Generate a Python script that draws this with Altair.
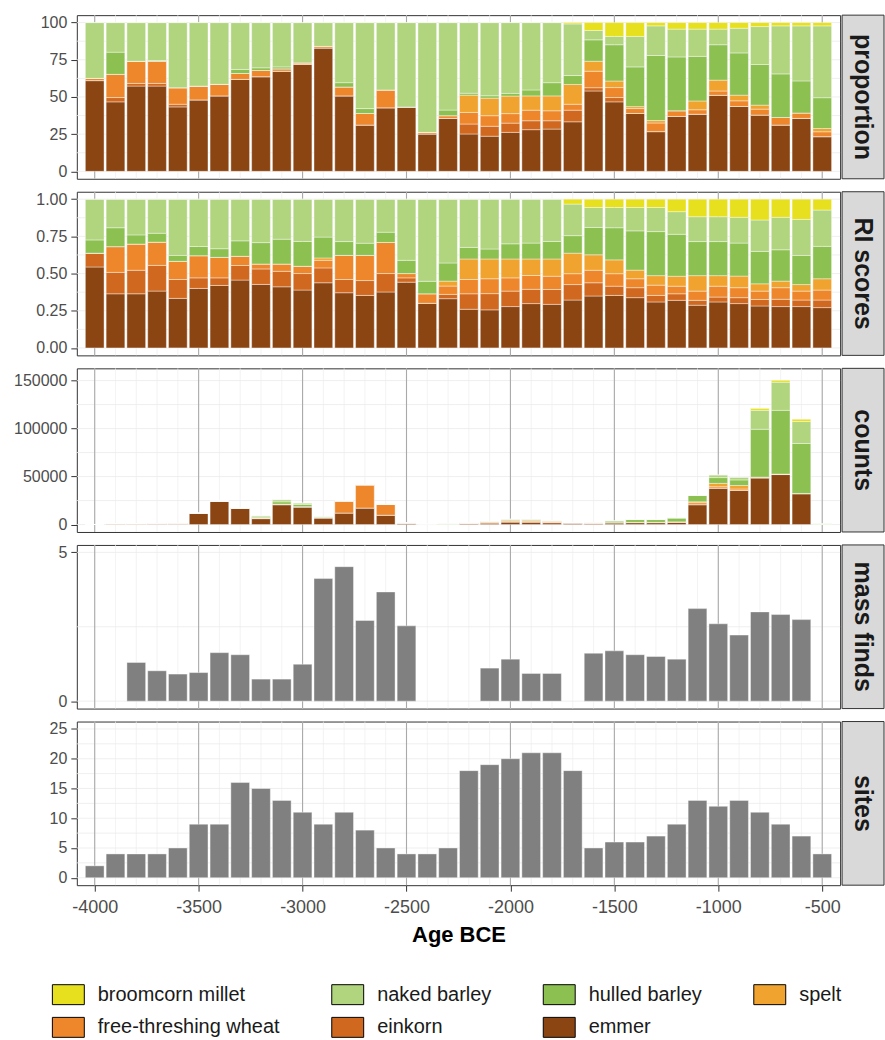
import altair as alt
import pandas as pd

FONT = "Liberation Sans"

# Time bins (century mid-points, BCE as negative years)
years = [-4000, -3900, -3800, -3700, -3600, -3500, -3400, -3300, -3200, -3100,
         -3000, -2900, -2800, -2700, -2600, -2500, -2400, -2300, -2200, -2100,
         -2000, -1900, -1800, -1700, -1600, -1500, -1400, -1300, -1200, -1100,
         -1000, -900, -800, -700, -600, -500]

# Crops, in legend order, with their fills
crops = ["broomcorn millet", "naked barley", "hulled barley", "spelt",
         "free-threshing wheat", "einkorn", "emmer"]
crop_colors = ["#E7E01F", "#B1D47E", "#8CC152", "#F1A330", "#EE872B", "#D0691F", "#8B4513"]
# stacking position from the baseline upwards
stack_rank = {"emmer": 0, "einkorn": 1, "free-threshing wheat": 2, "spelt": 3,
              "hulled barley": 4, "naked barley": 5, "broomcorn millet": 6}

# ---- proportion (%) ----
prop_emmer = [61, 46.7, 57.3, 57.3, 43.3, 48, 50.7, 61.8, 63.6, 67.3, 71.8, 82.9, 50.7, 31.1,
              42.7, 43.3, 25.1, 35.6, 25.1, 23.6, 26.2, 28, 28.4, 33.3, 54, 46.7, 38.9, 26.7,
              36.9, 38.4, 51.1, 43.6, 37.8, 31.1, 35.6, 23.3]
prop_einkorn = [0, 2.9, 1.8, 1.8, 1.8, 0, 0, 0, 0, 0, 0, 0, 0, 0, 0, 0, 0, 0, 6.7, 6.7, 6.2, 6,
                5.6, 7.8, 2.2, 2.9, 0, 0, 0, 0, 0, 0, 0, 0, 0, 0]
prop_ftw = [1.5, 15.6, 14.9, 14.9, 11.1, 9.3, 7.8, 4, 4.2, 1.6, 1.1, 1.1, 6, 7.8, 12, 0, 1.1,
            1.8, 7.8, 7.1, 6.4, 7.1, 6.7, 4, 11.1, 6.7, 3.3, 5.8, 3.8, 3, 2.9, 3.8, 4, 5.1,
            3.6, 3.3]
prop_spelt = [0, 0, 0, 0, 0, 0, 0, 0, 0, 0, 0, 0, 0, 0, 0, 0, 0, 0, 11.6, 11.8, 11.8, 9.6, 10,
              13.3, 6.7, 4.4, 1.3, 1.6, 0, 5.9, 7.3, 3.8, 2.7, 0, 0, 2.2]
prop_hulled = [0, 14.9, 0, 0.5, 0, 0, 0, 2.7, 1.8, 1.3, 0, 0, 2.9, 3.3, 0, 0, 0, 3.8, 1.3, 1.6,
               1.8, 4, 8.9, 6, 14.4, 24.4, 26.7, 43.8, 36.2, 30, 23.8, 28.4, 27.3, 29.3, 21.6,
               20.7]
prop_naked = [37.5, 19.9, 26.0, 25.5, 43.8, 42.7, 41.5, 31.5, 30.4, 29.8, 27.1, 16.0, 40.4,
              57.8, 45.3, 56.7, 73.8, 58.8, 47.5, 49.2, 47.6, 45.3, 40.4, 34.7, 6.3, 5.6,
              20.5, 19.9, 18.7, 18.3, 10.5, 16.6, 25.5, 32.3, 37.0, 48.3]
prop_millet = [0, 0, 0, 0, 0, 0, 0, 0, 0, 0, 0, 0, 0, 0, 0, 0, 0, 0, 0, 0, 0, 0, 0, 0.9, 5.3,
               9.3, 9.3, 2.2, 4.4, 4.4, 4.4, 3.8, 2.7, 2.2, 2.2, 2.2]

# ---- RI scores ----
ri_emmer = [0.544, 0.364, 0.364, 0.382, 0.333, 0.4, 0.42, 0.456, 0.427, 0.411, 0.389, 0.438,
            0.371, 0.353, 0.376, 0.442, 0.3, 0.331, 0.26, 0.256, 0.278, 0.298, 0.293, 0.322,
            0.349, 0.353, 0.338, 0.309, 0.32, 0.287, 0.309, 0.298, 0.282, 0.278, 0.278, 0.271]
ri_einkorn = [0.093, 0.144, 0.158, 0.173, 0.127, 0.071, 0.051, 0.098, 0.104, 0.104, 0.111, 0.1,
              0.089, 0.1, 0.124, 0.029, 0, 0.029, 0.104, 0.109, 0.104, 0.096, 0.1, 0.104, 0.089,
              0.062, 0.067, 0.044, 0.044, 0.033, 0.033, 0.04, 0.044, 0.049, 0.044, 0.051]
ri_ftw = [0, 0.173, 0.176, 0.156, 0.122, 0.149, 0.138, 0.062, 0.033, 0.049, 0.049, 0.051, 0.162,
          0.169, 0.209, 0.029, 0.064, 0.056, 0.096, 0.1, 0.089, 0.093, 0.089, 0.073, 0.084,
          0.084, 0.06, 0.069, 0.051, 0.062, 0.073, 0.067, 0.056, 0.078, 0.06, 0.067]
ri_spelt = [0, 0, 0, 0, 0, 0, 0, 0, 0, 0, 0, 0.016, 0, 0, 0, 0, 0, 0.033, 0.138, 0.133, 0.127,
            0.111, 0.116, 0.138, 0.104, 0.093, 0.058, 0.064, 0.067, 0.104, 0.071, 0.078, 0.049,
            0.044, 0.044, 0.076]
ri_hulled = [0.089, 0.127, 0.062, 0.06, 0.04, 0.062, 0.058, 0.104, 0.144, 0.167, 0.167, 0.14,
             0.093, 0.082, 0.069, 0.089, 0.084, 0.122, 0.078, 0.067, 0.102, 0.107, 0.118, 0.118,
             0.184, 0.216, 0.264, 0.296, 0.282, 0.229, 0.229, 0.222, 0.218, 0.211, 0.196, 0.218]
ri_naked = [0.274, 0.192, 0.24, 0.229, 0.378, 0.318, 0.333, 0.28, 0.292, 0.269, 0.284, 0.255,
            0.285, 0.296, 0.222, 0.411, 0.552, 0.429, 0.324, 0.335, 0.3, 0.295, 0.284, 0.212,
            0.134, 0.136, 0.157, 0.162, 0.152, 0.167, 0.167, 0.173, 0.211, 0.218, 0.242, 0.244]
ri_millet = [0, 0, 0, 0, 0, 0, 0, 0, 0, 0, 0, 0, 0, 0, 0, 0, 0, 0, 0, 0, 0, 0, 0, 0.033, 0.056,
             0.056, 0.056, 0.056, 0.084, 0.118, 0.118, 0.122, 0.14, 0.122, 0.136, 0.073]

# ---- counts (grains) ----
cnt_emmer = [0, 500, 500, 600, 600, 11500, 24000, 16800, 6200, 20700, 18300, 6900, 12000, 17200,
             9700, 1400, 300, 0, 1000, 1500, 2500, 2400, 1800, 1400, 1300, 1800, 2000, 2000,
             2500, 20700, 37900, 35500, 48600, 52100, 32100, 200]
cnt_einkorn = [0, 0, 0, 0, 0, 0, 0, 0, 0, 0, 0, 0, 0, 0, 0, 0, 0, 0, 200, 300, 400, 400, 300,
               200, 0, 0, 0, 0, 0, 0, 0, 0, 0, 0, 0, 0]
cnt_ftw = [0, 600, 700, 800, 900, 500, 500, 400, 500, 500, 300, 300, 12500, 24200, 11300, 300,
           0, 0, 300, 500, 700, 700, 600, 200, 300, 200, 300, 300, 300, 2000, 1500, 1500, 800,
           500, 300, 0]
cnt_spelt = [0, 0, 0, 0, 0, 0, 0, 0, 0, 0, 0, 0, 0, 0, 0, 0, 0, 0, 200, 600, 800, 900, 900, 200,
             0, 0, 0, 0, 0, 1000, 3500, 3700, 0, 0, 0, 0]
cnt_hulled = [0, 0, 0, 0, 0, 0, 0, 0, 1000, 2500, 2300, 0, 0, 0, 0, 0, 0, 200, 0, 500, 1100,
              1100, 200, 0, 400, 1800, 2900, 2900, 4100, 6600, 6000, 5800, 49900, 66400, 52100, 0]
cnt_naked = [0, 0, 0, 0, 0, 0, 0, 0, 1300, 2200, 1500, 800, 0, 0, 0, 0, 200, 500, 0, 0, 0, 0, 0,
             0, 0, 0, 0, 0, 0, 0, 2800, 2800, 19700, 29300, 22800, 600]
cnt_millet = [0, 0, 0, 0, 0, 0, 0, 0, 0, 0, 0, 0, 0, 0, 0, 0, 0, 0, 0, 0, 0, 0, 0, 0, 0, 0, 0, 0,
              0, 0, 0, 0, 2000, 2000, 2400, 0]

# ---- mass finds and sites ----
mass_finds = [None, None, 1.3, 1.02, 0.91, 0.96, 1.63, 1.56, 0.74, 0.74, 1.24, 4.12, 4.52, 2.71,
              3.67, 2.53, None, None, None, 1.11, 1.41, 0.93, 0.93, None, 1.61, 1.69, 1.56, 1.5,
              1.41, 3.11, 2.6, 2.22, 3.0, 2.91, 2.74, None]
sites = [2, 4, 4, 4, 5, 9, 9, 16, 15, 13, 11, 9, 11, 8, 5, 4, 4, 5, 18, 19, 20, 21, 21, 18, 5, 6,
         6, 7, 9, 13, 12, 13, 11, 9, 7, 4]

x_ticks = [-4000, -3500, -3000, -2500, -2000, -1500, -1000, -500]
x_minor = [-4000, -3900, -3800, -3700, -3600, -3500, -3400, -3300, -3200, -3100, -3000, -2900,
           -2800, -2700, -2600, -2500, -2400, -2300, -2200, -2100, -2000, -1900, -1800, -1700,
           -1600, -1500, -1400, -1300, -1200, -1100, -1000, -900, -800, -700, -600, -500]
X_DOMAIN = [-4086, -414]

W, H = 765, 164
STRIP_W = 38


def long_table(series):
    rows = []
    for crop, vals in series.items():
        for yr, v in zip(years, vals):
            rows.append({"year": yr, "crop": crop, "value": v, "rank": stack_rank[crop]})
    return pd.DataFrame(rows)


def y_axis(values, fmt):
    return alt.Axis(values=values, format=fmt, grid=False, domain=False, title=None,
                    tickColor="#333333", tickSize=6, labelPadding=4, labelFontSize=16,
                    labelColor="#4D4D4D", labelFont=FONT)


def x_axis(bottom):
    if not bottom:
        return None
    return alt.Axis(values=x_ticks, labelExpr="datum.value + ''", grid=False, domain=False,
                    title="Age BCE", tickColor="#333333", tickSize=6, labelPadding=7,
                    labelFontSize=18, labelColor="#4D4D4D", labelFont=FONT, titleFont=FONT,
                    titleFontSize=22, titleFontWeight="bold", titleColor="#000000",
                    titlePadding=8)


def grid_layers(y_grid, y_scale, yax, xax):
    xs = alt.Scale(domain=X_DOMAIN)
    vminor = alt.Chart(pd.DataFrame({"gx": x_minor})).mark_rule(
        color="#EDEDED", strokeWidth=0.7
    ).encode(x=alt.X("gx:Q", scale=xs, axis=xax))
    hgrid = alt.Chart(pd.DataFrame({"gy": y_grid})).mark_rule(
        color="#EBEBEB", strokeWidth=0.8
    ).encode(y=alt.Y("gy:Q", scale=y_scale, axis=yax))
    vmajor = alt.Chart(pd.DataFrame({"gx": x_ticks})).mark_rule(
        color="#A9A9A9", strokeWidth=1.1
    ).encode(x=alt.X("gx:Q", scale=xs, axis=xax))
    return [vminor, hgrid, vmajor]


def strip_layers(label):
    one = pd.DataFrame({"k": [0]})
    box = alt.Chart(one).mark_rect(
        fill="#D9D9D9", stroke="#333333", strokeWidth=1
    ).encode(x=alt.value(W + 2), x2=alt.value(W + 2 + STRIP_W + 4), y=alt.value(0),
             y2=alt.value(H))
    txt = alt.Chart(one).mark_text(
        angle=90, font=FONT, fontSize=25, fontWeight="bold", color="#1A1A1A",
        align="center", baseline="middle"
    ).encode(x=alt.value(W + 2 + 21), y=alt.value(H / 2), text=alt.value(label))
    return [box, txt]


def stacked_panel(series, y_domain, y_ticks, y_grid, fmt, label):
    df = long_table(series)
    ys = alt.Scale(domain=y_domain)
    yax = y_axis(y_ticks, fmt)
    bars = alt.Chart(df).transform_stack(
        stack="value", groupby=["year"], as_=["v0", "v1"],
        sort=[alt.SortField("rank", order="ascending")]
    ).transform_calculate(
        lo="datum.year - 45", hi="datum.year + 45"
    ).mark_bar(stroke="#FFFFFF", strokeWidth=0.5, strokeOpacity=0.8).encode(
        x=alt.X("lo:Q", scale=alt.Scale(domain=X_DOMAIN), axis=None),
        x2="hi:Q",
        y=alt.Y("v0:Q", scale=ys, axis=yax),
        y2="v1:Q",
        color=alt.Color("crop:N", scale=alt.Scale(domain=crops, range=crop_colors),
                        legend=alt.Legend(title=None)),
    )
    return alt.layer(*grid_layers(y_grid, ys, yax, None), bars, *strip_layers(label)).properties(
        width=W, height=H)


def single_panel(values, y_domain, y_ticks, y_grid, fmt, label, bottom=False):
    df = pd.DataFrame({"year": years, "value": values}).dropna()
    ys = alt.Scale(domain=y_domain)
    yax = y_axis(y_ticks, fmt)
    xax = x_axis(bottom)
    bars = alt.Chart(df).transform_calculate(
        lo="datum.year - 45", hi="datum.year + 45", base="0"
    ).mark_bar(color="#808080", stroke="#FFFFFF", strokeWidth=0.5, strokeOpacity=0.8).encode(
        x=alt.X("lo:Q", scale=alt.Scale(domain=X_DOMAIN), axis=xax),
        x2="hi:Q",
        y=alt.Y("value:Q", scale=ys, axis=yax),
        y2="base:Q",
    )
    return alt.layer(*grid_layers(y_grid, ys, yax, xax), bars, *strip_layers(label)).properties(
        width=W, height=H)


p_prop = stacked_panel(
    {"emmer": prop_emmer, "einkorn": prop_einkorn, "free-threshing wheat": prop_ftw,
     "spelt": prop_spelt, "hulled barley": prop_hulled, "naked barley": prop_naked,
     "broomcorn millet": prop_millet},
    [-5, 105], [0, 25, 50, 75, 100], [0, 12.5, 25, 37.5, 50, 62.5, 75, 87.5, 100], "d", "proportion")

p_ri = stacked_panel(
    {"emmer": ri_emmer, "einkorn": ri_einkorn, "free-threshing wheat": ri_ftw,
     "spelt": ri_spelt, "hulled barley": ri_hulled, "naked barley": ri_naked,
     "broomcorn millet": ri_millet},
    [-0.05, 1.05], [0, 0.25, 0.5, 0.75, 1.0],
    [0, 0.125, 0.25, 0.375, 0.5, 0.625, 0.75, 0.875, 1.0], ".2f", "RI scores")

p_cnt = stacked_panel(
    {"emmer": cnt_emmer, "einkorn": cnt_einkorn, "free-threshing wheat": cnt_ftw,
     "spelt": cnt_spelt, "hulled barley": cnt_hulled, "naked barley": cnt_naked,
     "broomcorn millet": cnt_millet},
    [-7750, 162750], [0, 50000, 100000, 150000],
    [0, 25000, 50000, 75000, 100000, 125000, 150000], "d", "counts")

p_mass = single_panel(mass_finds, [-0.25, 5.25], [0, 5], [0, 2.5, 5], "d", "mass finds")

p_sites = single_panel(sites, [-1.25, 26.25], [0, 5, 10, 15, 20, 25],
                       [0, 2.5, 5, 7.5, 10, 12.5, 15, 17.5, 20, 22.5, 25], "d", "sites",
                       bottom=True)

chart = alt.vconcat(p_prop, p_ri, p_cnt, p_mass, p_sites, spacing=13, bounds="flush").resolve_scale(
    color="shared"
).properties(
    padding={"left": 13, "top": 12, "right": 0, "bottom": 0},
    background="#FFFFFF",
).configure_view(
    stroke="#333333", strokeWidth=1
).configure_legend(
    orient="none", legendX=-19, legendY=971, columns=4, direction="horizontal",
    symbolType="M-1.6,-1H1.6V1H-1.6Z", symbolSize=400, symbolStrokeColor="#000000",
    symbolStrokeWidth=1, symbolOpacity=1, labelFont=FONT, labelFontSize=20,
    labelColor="#1A1A1A", labelOffset=19, columnPadding=49, rowPadding=8, padding=0,
    labelLimit=0,
)

chart.save("out.html", embed_options={"renderer": "svg", "actions": False})
